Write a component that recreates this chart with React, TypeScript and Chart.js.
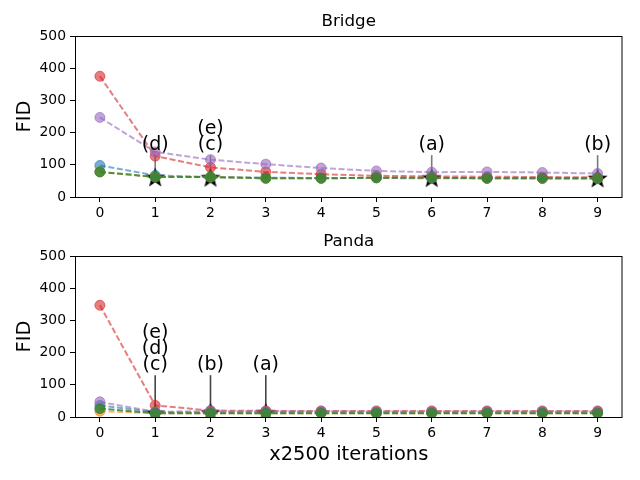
import { useEffect, useRef } from 'react';
import { Chart, registerables } from 'chart.js';

Chart.register(...registerables);

// x axis: training iterations (x2500)
const iterations = [0, 1, 2, 3, 4, 5, 6, 7, 8, 9];
const yTicks = [0, 100, 200, 300, 400, 500];

// Bridge
const bridgeBlue = [98, 67, 62, 60, 59, 59, 58, 58, 58, 57];
const bridgeOrange = [78, 62, 62, 58, 58, 60, 60, 58, 58, 58];
const bridgeGreen = [78, 62, 62, 58, 58, 60, 60, 58, 58, 58];
const bridgeRed = [375, 127, 92, 78, 71, 66, 64, 63, 62, 61];
const bridgePurple = [247, 140, 116, 102, 90, 81, 77, 78, 76, 73];
const bridgeStarX = [1, 2, 6, 9];
const bridgeStarY = [62, 61, 60, 59];
const bridgeStarNotes = [['(d)'], ['(c)', '(e)'], ['(a)'], ['(b)']];

// Panda
const pandaBlue = [36, 15, 14, 14, 14, 14, 14, 14, 14, 14];
const pandaOrange = [18, 12, 12, 12, 12, 12, 12, 12, 12, 12];
const pandaGreen = [26, 12, 12, 12, 12, 12, 12, 12, 12, 12];
const pandaRed = [347, 36, 20, 19, 19, 19, 19, 19, 19, 19];
const pandaPurple = [47, 16, 18, 18, 18, 17, 17, 17, 17, 17];
const pandaStarX = [1, 2, 3];
const pandaStarY = [13, 14, 14];
const pandaStarNotes = [['(c)', '(d)', '(e)'], ['(b)'], ['(a)']];

// annotation text / arrow heights (FID units)
const noteTextY = 142;
const noteStep = 49;
const noteArrowTop = 130;

const FONT = 'DejaVu Sans';

const makeStar = () => {
	const c = document.createElement('canvas');
	c.width = 22;
	c.height = 22;
	const g = c.getContext('2d')!;
	g.beginPath();
	for (let i = 0; i < 10; i++) {
		const r = i % 2 === 0 ? 10.5 : 4.3;
		const a = -Math.PI / 2 + (i * Math.PI) / 5;
		const px = 11 + r * Math.cos(a);
		const py = 12 + r * Math.sin(a);
		if (i === 0) g.moveTo(px, py);
		else g.lineTo(px, py);
	}
	g.closePath();
	g.fillStyle = '#000';
	g.fill();
	return c;
};

const series = (values: number[], color: string, order: number) => ({
	data: iterations.map((x, i) => ({ x, y: values[i] })),
	borderColor: color,
	backgroundColor: color,
	pointBackgroundColor: color,
	pointBorderColor: color,
	pointRadius: 5,
	pointBorderWidth: 1,
	borderWidth: 2,
	borderDash: [6, 2.6],
	order,
});

const buildChart = (
	canvas: HTMLCanvasElement,
	opts: {
		title: string;
		xTitle: string;
		blue: number[];
		orange: number[];
		green: number[];
		red: number[];
		purple: number[];
		starX: number[];
		starY: number[];
		notes: string[][];
		arrowColor: string;
		padTop: number;
		xHeight: number;
	}
) => {
	const star = makeStar();
	const decor = {
		id: 'decor',
		beforeDatasetsDraw(chart: any) {
			const { ctx } = chart;
			const xs = chart.scales.x;
			const ys = chart.scales.y;
			ctx.save();
			ctx.strokeStyle = opts.arrowColor;
			ctx.lineWidth = 1.6;
			opts.starX.forEach((sx, i) => {
				const px = xs.getPixelForValue(sx);
				ctx.beginPath();
				ctx.moveTo(px, ys.getPixelForValue(noteArrowTop));
				ctx.lineTo(px, ys.getPixelForValue(opts.starY[i]));
				ctx.stroke();
			});
			ctx.restore();
		},
		afterDatasetsDraw(chart: any) {
			const { ctx, chartArea } = chart;
			const xs = chart.scales.x;
			const ys = chart.scales.y;
			ctx.save();
			ctx.strokeStyle = '#000';
			ctx.lineWidth = 1;
			ctx.strokeRect(chartArea.left + 0.5, chartArea.top + 0.5, chartArea.right - chartArea.left - 1, chartArea.bottom - chartArea.top);
			ctx.fillStyle = '#000';
			ctx.textAlign = 'center';
			ctx.textBaseline = 'bottom';
			ctx.font = `19px "${FONT}"`;
			opts.starX.forEach((sx, i) => {
				const px = xs.getPixelForValue(sx);
				opts.notes[i].forEach((t, k) => {
					ctx.fillText(t, px, ys.getPixelForValue(noteTextY + k * noteStep) + 3);
				});
			});
			const cx = (chartArea.left + chartArea.right) / 2;
			ctx.textBaseline = 'middle';
			ctx.font = `16.7px "${FONT}"`;
			ctx.fillText(opts.title, cx, chartArea.top - 14);
			ctx.font = `19.4px "${FONT}"`;
			if (opts.xTitle) ctx.fillText(opts.xTitle, cx, chartArea.bottom + 38);
			ctx.translate(25, (chartArea.top + chartArea.bottom) / 2);
			ctx.rotate(-Math.PI / 2);
			ctx.fillText('FID', 0, 0);
			ctx.restore();
		},
	};

	return new Chart(canvas, {
		type: 'line',
		data: {
			datasets: [
				series(opts.blue, 'rgba(31,119,180,0.6)', 5),
				series(opts.orange, 'rgba(255,127,14,0.6)', 4),
				series(opts.red, 'rgba(214,39,40,0.6)', 3),
				series(opts.purple, 'rgba(148,103,189,0.6)', 2),
				series(opts.green, 'rgba(52,135,52,0.85)', 1),
				{
					data: opts.starX.map((x, i) => ({ x, y: opts.starY[i] })),
					showLine: false,
					pointStyle: star,
					pointRadius: 11,
					order: 10,
				} as any,
			],
		},
		options: {
			animation: false,
			responsive: false,
			devicePixelRatio: 1,
			layout: { padding: { top: opts.padTop, left: 0, right: 17.5, bottom: 0 } },
			plugins: { legend: { display: false }, tooltip: { enabled: false }, title: { display: false } },
			scales: {
				x: {
					type: 'linear',
					min: -0.45,
					max: 9.45,
					afterBuildTicks: (s: any) => {
						s.ticks = iterations.map((v) => ({ value: v }));
					},
					afterFit: (s: any) => {
						s.height = opts.xHeight;
					},
					grid: { drawOnChartArea: false, drawTicks: true, tickLength: 5, color: '#000' },
					border: { display: false },
					ticks: { color: '#000', padding: 3, font: { family: FONT, size: 13.9 }, maxRotation: 0 },
				},
				y: {
					min: 0,
					max: 500,
					afterBuildTicks: (s: any) => {
						s.ticks = yTicks.map((v) => ({ value: v }));
					},
					afterFit: (s: any) => {
						s.width = 75;
					},
					grid: { drawOnChartArea: false, drawTicks: true, tickLength: 5, color: '#000' },
					border: { display: false },
					ticks: { color: '#000', padding: 4, font: { family: FONT, size: 13.9 } },
				},
			},
		},
		plugins: [decor],
	});
};

const App = () => {
	const topRef = useRef<HTMLCanvasElement>(null);
	const bottomRef = useRef<HTMLCanvasElement>(null);

	useEffect(() => {
		if (!topRef.current || !bottomRef.current) return;
		const top = buildChart(topRef.current, {
			title: 'Bridge',
			xTitle: '',
			blue: bridgeBlue,
			orange: bridgeOrange,
			green: bridgeGreen,
			red: bridgeRed,
			purple: bridgePurple,
			starX: bridgeStarX,
			starY: bridgeStarY,
			notes: bridgeStarNotes,
			arrowColor: '#7a7a7a',
			padTop: 36,
			xHeight: 31,
		});
		const bottom = buildChart(bottomRef.current, {
			title: 'Panda',
			xTitle: 'x2500 iterations',
			blue: pandaBlue,
			orange: pandaOrange,
			green: pandaGreen,
			red: pandaRed,
			purple: pandaPurple,
			starX: pandaStarX,
			starY: pandaStarY,
			notes: pandaStarNotes,
			arrowColor: '#444',
			padTop: 28,
			xHeight: 63,
		});
		return () => {
			top.destroy();
			bottom.destroy();
		};
	}, []);

	return (
		<div style={{ position: 'absolute', left: 0, top: 0, width: 640, height: 480, background: '#fff' }}>
			<canvas ref={topRef} width={640} height={228} style={{ position: 'absolute', left: 0, top: 0 }} />
			<canvas ref={bottomRef} width={640} height={252} style={{ position: 'absolute', left: 0, top: 228 }} />
		</div>
	);
};

export default App;
